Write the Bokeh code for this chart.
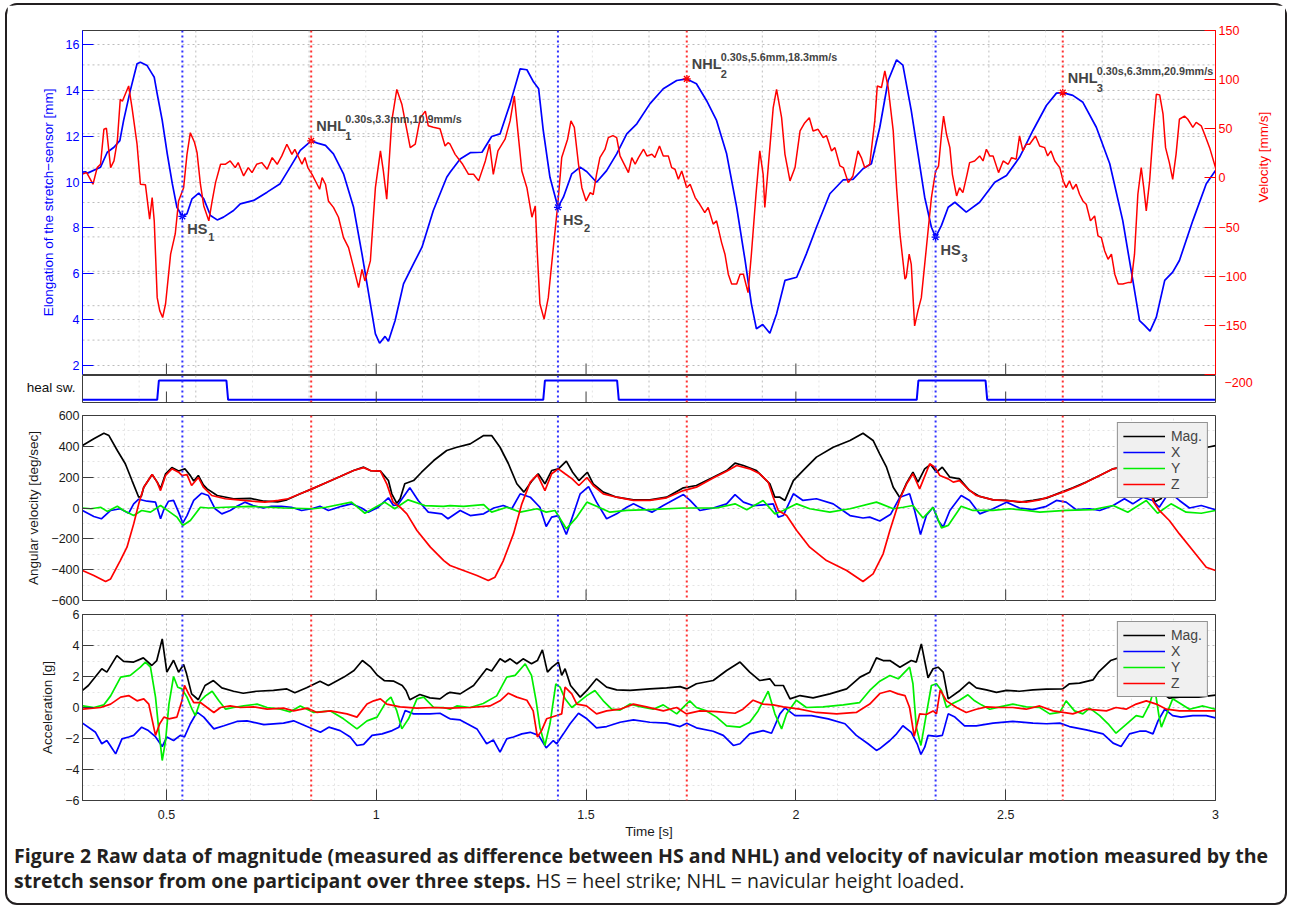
import math
from bokeh.plotting import figure
from bokeh.models import (Range1d, LinearAxis, FixedTicker, Span, Label, Legend, LegendItem,
                          Grid, CustomJSTickFormatter, Div)
from bokeh.layouts import column
from bokeh.embed import file_html
from bokeh.resources import INLINE

# ---------------- data ----------------
x_ticks = [0.5, 1.0, 1.5, 2.0, 2.5, 3.0]
elong_ticks = [2, 4, 6, 8, 10, 12, 14, 16]
vel_ticks = [-200, -150, -100, -50, 0, 50, 100, 150]
angv_ticks = [-600, -400, -200, 0, 200, 400, 600]
acc_ticks = [-6, -4, -2, 0, 2, 4, 6]

hs_t = [0.538, 1.433, 2.333]
hs_mm = [8.50, 8.90, 7.60]
nhl_t = [0.845, 1.740, 2.636]
nhl_mm = [11.80, 14.50, 13.90]
nhl_info = ["0.30s,3.3mm,10.9mm/s", "0.30s,5.6mm,18.3mm/s", "0.30s,6.3mm,20.9mm/s"]
step_idx = ["1", "2", "3"]

heel_on = [0.478, 1.398, 2.288]
heel_off = [0.643, 1.574, 2.452]
heel_label = "heal sw."

elong = [(0.300,10.43),(0.307,10.45),(0.312,10.39),(0.343,10.65),(0.359,11.30),(0.375,11.52),(0.389,11.81),
 (0.398,12.69),(0.414,14.00),(0.430,15.16),(0.438,15.23),(0.454,15.08),(0.466,14.72),(0.471,14.57),(0.478,13.85),
 (0.490,12.69),(0.502,11.23),(0.514,9.93),(0.525,8.90),(0.538,8.50),(0.549,8.62),(0.561,9.27),(0.577,9.52),
 (0.589,9.27),(0.605,8.54),(0.621,8.35),(0.636,8.47),(0.660,8.76),(0.676,9.05),(0.708,9.20),(0.740,9.56),
 (0.771,9.93),(0.795,10.65),(0.819,11.38),(0.845,11.80),(0.860,11.70),(0.879,11.60),(0.898,11.23),(0.922,10.36),
 (0.946,8.90),(0.966,6.87),(0.986,4.69),(0.998,3.38),(1.008,2.97),(1.021,3.27),(1.029,3.06),(1.045,3.96),
 (1.065,5.56),(1.089,6.44),(1.109,7.16),(1.136,8.76),(1.168,10.21),(1.176,10.43),(1.200,11.01),(1.224,11.28),
 (1.252,11.30),(1.275,11.99),(1.295,12.10),(1.319,13.41),(1.343,14.94),(1.359,14.90),(1.375,14.36),(1.387,14.07),
 (1.398,12.25),(1.414,10.21),(1.433,8.90),(1.446,9.34),(1.466,10.36),(1.486,10.65),(1.502,10.45),(1.525,9.99),
 (1.549,10.50),(1.573,11.23),(1.597,12.10),(1.621,12.54),(1.652,13.41),(1.684,14.07),(1.716,14.43),(1.740,14.50),
 (1.763,14.29),(1.787,13.56),(1.811,12.69),(1.835,11.23),(1.859,8.90),(1.879,6.58),(1.894,4.69),(1.906,3.60),
 (1.921,3.79),(1.938,3.41),(1.954,4.25),(1.974,5.71),(2.002,5.85),(2.025,6.87),(2.049,8.03),(2.081,9.49),
 (2.113,10.10),(2.136,10.12),(2.160,10.58),(2.180,10.80),(2.200,12.39),(2.220,14.43),(2.240,15.33),(2.255,15.10),
 (2.275,13.12),(2.291,11.23),(2.307,9.34),(2.323,8.03),(2.333,7.60),(2.347,8.11),(2.363,8.90),(2.379,9.12),
 (2.406,8.69),(2.438,9.12),(2.474,9.99),(2.502,10.29),(2.533,11.08),(2.565,12.25),(2.597,13.34),(2.621,13.88),
 (2.636,13.90),(2.660,13.78),(2.684,13.48),(2.716,12.39),(2.748,10.80),(2.779,8.32),(2.803,5.71),(2.819,3.96),
 (2.831,3.75),(2.844,3.50),(2.859,4.11),(2.879,5.71),(2.898,6.07),(2.914,6.58),(2.946,8.32),(2.978,9.93),(3.000,10.50)]

velocity = [(0.300,4),(0.310,5.4),(0.325,-6.4),(0.335,10.5),(0.343,13.9),(0.351,49.5),(0.357,50.5),(0.367,10.5),
 (0.375,17.3),(0.383,37.6),(0.390,80),(0.395,78),(0.410,93.6),(0.418,71.5),(0.430,34.3),(0.438,-6.4),(0.450,-7),
 (0.460,-42),(0.466,-20),(0.471,-44),(0.478,-121.8),(0.484,-135),(0.491,-142),(0.498,-128),(0.510,-77.6),(0.521,-57),
 (0.529,-23.4),(0.541,-9.9),(0.549,24),(0.557,46),(0.567,36),(0.573,25.7),(0.581,-6.4),(0.589,-28.5),(0.601,-43.7),
 (0.609,-23.4),(0.617,-4.8),(0.629,13.9),(0.640,13.9),(0.652,17.3),(0.664,10.5),(0.671,15.6),(0.684,2),(0.695,10.5),
 (0.704,5.4),(0.715,13.9),(0.727,15.6),(0.740,8.8),(0.752,20.7),(0.764,13.9),(0.775,22.4),(0.787,34.3),(0.799,24),
 (0.806,29),(0.823,13.9),(0.830,20.7),(0.837,10.5),(0.847,3.7),(0.859,-6.4),(0.865,-11.5),(0.871,0.3),(0.879,-6.4),
 (0.886,-23.4),(0.898,-30),(0.910,-40),(0.922,-60.7),(0.934,-70.9),(0.946,-91),(0.958,-111.6),(0.966,-93),
 (0.973,-104.8),(0.986,-84.4),(0.998,-9.9),(1.010,27.5),(1.017,7),(1.025,-21.7),(1.037,58),(1.049,90),(1.061,75),
 (1.081,30.8),(1.093,34.3),(1.105,61.3),(1.117,68),(1.124,53),(1.136,51.5),(1.152,50),(1.164,32.5),(1.171,35.9),
 (1.176,34.3),(1.188,24),(1.206,13.9),(1.220,3.7),(1.232,3.7),(1.244,-3),(1.260,17.3),(1.270,34.3),(1.279,3.7),
 (1.290,27.5),(1.307,39.4),(1.319,58),(1.329,83.4),(1.335,58),(1.347,7),(1.359,-9.9),(1.371,-40),(1.379,-28.5),
 (1.384,-77.6),(1.390,-128),(1.400,-143.7),(1.410,-121.8),(1.422,-70.9),(1.432,-30),(1.442,20.7),(1.456,39.4),
 (1.464,58),(1.472,51.5),(1.482,13.9),(1.490,-9.9),(1.500,-23.4),(1.510,-15),(1.517,-17),(1.525,3.7),(1.533,20.7),
 (1.545,29),(1.553,41),(1.564,43),(1.573,41),(1.581,22.4),(1.589,15.6),(1.601,5.4),(1.609,20.7),(1.617,13.9),
 (1.625,20.7),(1.637,29.2),(1.645,22.4),(1.657,24),(1.664,20.7),(1.675,32.5),(1.684,22.4),(1.696,22.4),(1.704,10.5),
 (1.712,8.8),(1.720,-1.4),(1.728,7),(1.740,-9.9),(1.748,-6.4),(1.760,-20),(1.771,-26.8),(1.783,-35.3),(1.791,-30),
 (1.803,-47),(1.811,-43.7),(1.823,-65.8),(1.831,-77.6),(1.839,-98),(1.847,-108),(1.859,-108),(1.867,-98),(1.875,-98),
 (1.886,-116.7),(1.894,-77.6),(1.905,-16.6),(1.914,27.5),(1.922,3.7),(1.926,-30),(1.934,10.5),(1.946,71.5),(1.954,90),
 (1.966,61.3),(1.974,24),(1.986,-3),(1.998,10.5),(2.010,47.8),(2.021,56),(2.032,61.3),(2.041,47.8),(2.053,49.5),
 (2.065,41),(2.073,43),(2.085,27.5),(2.093,30.8),(2.105,12.2),(2.113,10.5),(2.125,-4.8),(2.136,2),(2.148,27.5),
 (2.156,20.7),(2.164,10.5),(2.176,13.9),(2.188,58),(2.194,93.6),(2.204,92),(2.212,108.8),(2.220,92),(2.232,47.8),
 (2.240,-9.9),(2.248,-57),(2.260,-103),(2.263,-101),(2.270,-77.6),(2.275,-88),(2.283,-150.6),(2.291,-135),
 (2.299,-121.8),(2.311,-71),(2.323,-20),(2.333,7),(2.340,12),(2.347,44.4),(2.352,63),(2.359,44.4),(2.367,30.8),
 (2.373,3.7),(2.383,-18.3),(2.390,-10),(2.398,-15),(2.408,3.7),(2.414,15.6),(2.426,17.3),(2.438,22.4),(2.446,17.3),
 (2.454,29.2),(2.462,22.4),(2.470,22.4),(2.483,5.4),(2.494,17.3),(2.506,13.9),(2.514,20.7),(2.525,19),(2.533,42.7),
 (2.541,27.5),(2.549,34.3),(2.557,34.3),(2.571,42.7),(2.581,32.5),(2.593,30.8),(2.600,22.4),(2.608,27.5),(2.617,17.3),
 (2.629,10.5),(2.637,-3),(2.644,-9.9),(2.652,-3),(2.660,-11.5),(2.668,-6.4),(2.676,-16.6),(2.684,-23.4),(2.692,-26.8),
 (2.702,-43.7),(2.712,-38.7),(2.720,-59),(2.728,-60.7),(2.736,-74.3),(2.744,-82.7),(2.752,-77.6),(2.760,-98),
 (2.768,-108),(2.779,-108),(2.791,-106.5),(2.799,-106.5),(2.807,-77.6),(2.815,-16.6),(2.823,10.5),(2.829,-9.9),
 (2.835,-33.6),(2.843,-3),(2.851,44.4),(2.859,85.1),(2.867,84.5),(2.875,64.8),(2.881,30.8),(2.890,15.6),(2.898,-1.4),
 (2.906,24),(2.914,59.7),(2.926,63),(2.934,59.7),(2.946,51.5),(2.954,56.5),(2.966,53),(2.974,44.4),(2.986,30.8),(3.000,10.5)]

gyro_mag = [(0.300,405),(0.327,449),(0.351,485),(0.363,470),(0.383,373),(0.402,287),(0.418,178),(0.434,70),(0.440,75),
 (0.446,135),(0.466,217),(0.478,168),(0.486,125),(0.498,222),(0.513,262),(0.529,240),(0.544,254),(0.557,210),(0.565,175),
 (0.576,211),(0.588,150),(0.597,124),(0.621,81),(0.660,60),(0.700,62),(0.733,44),(0.765,40),(0.787,53),(0.819,92),
 (0.847,124),(0.883,167),(0.914,204),(0.946,243),(0.970,265),(0.986,243),(1.010,239),(1.029,178),(1.037,92),(1.049,30),
 (1.057,60),(1.068,157),(1.089,178),(1.108,232),(1.137,308),(1.168,373),(1.192,394),(1.224,416),(1.256,470),(1.275,470),
 (1.295,394),(1.315,287),(1.335,157),(1.352,103),(1.370,172),(1.386,222),(1.402,157),(1.418,243),(1.434,254),(1.453,304),
 (1.468,232),(1.483,178),(1.503,232),(1.517,157),(1.541,103),(1.573,70),(1.613,53),(1.652,53),(1.692,70),(1.732,131),
 (1.763,146),(1.803,200),(1.835,243),(1.855,291),(1.875,276),(1.906,243),(1.926,189),(1.938,157),(1.950,70),(1.962,70),
 (1.974,49),(1.994,178),(2.017,243),(2.049,330),(2.089,394),(2.129,438),(2.160,485),(2.184,438),(2.200,350),(2.216,265),
 (2.232,135),(2.248,66),(2.263,157),(2.279,232),(2.291,168),(2.307,254),(2.321,282),(2.335,232),(2.349,265),(2.367,200),
 (2.390,189),(2.414,113),(2.438,75),(2.470,53),(2.502,49),(2.533,38),(2.565,49),(2.597,64),(2.633,103),(2.660,131),
 (2.692,168),(2.724,211),(2.756,254),(2.780,268),(2.805,272),(2.825,240),(2.842,150),(2.855,40),(2.870,60),(2.900,200),
 (2.930,300),(2.960,370),(2.981,394),(3.000,405)]

gyro_x = [(0.300,-16),(0.327,-55),(0.345,-70),(0.367,-16),(0.390,-5),(0.410,-34),(0.422,27),(0.434,57),(0.454,44),
 (0.474,38),(0.486,-70),(0.493,-16),(0.505,44),(0.517,49),(0.529,-27),(0.539,-98),(0.549,-49),(0.565,49),(0.584,96),
 (0.600,81),(0.616,-5),(0.632,-38),(0.652,-16),(0.668,11),(0.687,38),(0.706,16),(0.731,0),(0.750,11),(0.774,11),
 (0.798,5),(0.822,-16),(0.846,-5),(0.866,11),(0.886,-16),(0.917,11),(0.941,27),(0.965,0),(0.981,-27),(1.005,5),
 (1.029,66),(1.041,16),(1.052,22),(1.080,131),(1.100,49),(1.124,-27),(1.156,-38),(1.171,-70),(1.200,-16),(1.224,-49),
 (1.256,-38),(1.280,0),(1.303,16),(1.323,-5),(1.343,92),(1.367,70),(1.390,5),(1.405,-120),(1.418,-59),(1.434,-49),
 (1.453,-172),(1.470,-38),(1.486,92),(1.506,139),(1.525,38),(1.549,-70),(1.573,-38),(1.597,5),(1.613,27),(1.637,-5),
 (1.657,-27),(1.684,16),(1.732,87),(1.748,49),(1.771,-16),(1.803,0),(1.835,27),(1.855,87),(1.875,38),(1.898,16),
 (1.930,22),(1.946,27),(1.958,-59),(1.970,-49),(1.994,92),(2.017,49),(2.049,60),(2.089,27),(2.129,-49),(2.160,-65),
 (2.176,-59),(2.200,-84),(2.226,-40),(2.248,70),(2.271,92),(2.283,-16),(2.297,-172),(2.311,-49),(2.327,5),(2.339,-81),
 (2.351,-124),(2.367,-16),(2.394,81),(2.414,49),(2.438,-38),(2.470,-5),(2.502,38),(2.533,0),(2.565,-11),(2.597,11),
 (2.621,49),(2.644,38),(2.668,-11),(2.700,-5),(2.724,-16),(2.756,16),(2.783,60),(2.803,27),(2.827,70),(2.850,49),
 (2.866,5),(2.890,103),(2.914,49),(2.938,0),(2.966,16),(3.000,-11)]

gyro_y = [(0.300,0),(0.320,-5),(0.343,5),(0.359,-22),(0.383,11),(0.398,-16),(0.422,-49),(0.441,-16),(0.462,-27),
 (0.486,16),(0.505,-20),(0.525,-59),(0.539,-113),(0.557,-81),(0.581,5),(0.600,0),(0.640,5),(0.700,11),(0.780,0),
 (0.850,-5),(0.880,5),(0.941,38),(0.973,-34),(0.998,5),(1.020,38),(1.044,-5),(1.076,53),(1.116,16),(1.160,11),
 (1.176,16),(1.208,11),(1.256,22),(1.275,-27),(1.311,5),(1.343,-27),(1.383,-5),(1.405,-27),(1.426,-16),(1.453,-135),
 (1.478,-59),(1.502,38),(1.525,11),(1.557,-27),(1.597,-16),(1.652,-11),(1.732,0),(1.811,0),(1.855,27),(1.883,-11),
 (1.922,49),(1.950,-38),(1.970,-16),(2.002,27),(2.033,-5),(2.081,-27),(2.129,-5),(2.192,38),(2.200,30),(2.232,-5),
 (2.256,5),(2.279,16),(2.303,-65),(2.327,5),(2.347,-129),(2.363,-113),(2.394,11),(2.422,-16),(2.470,-16),(2.510,-5),
 (2.549,-16),(2.581,-27),(2.644,-16),(2.708,-11),(2.756,16),(2.791,-27),(2.835,49),(2.862,-34),(2.894,27),(2.930,-27),
 (2.966,-34),(3.000,-16)]

gyro_z = [(0.300,-405),(0.327,-438),(0.355,-477),(0.367,-460),(0.390,-341),(0.406,-254),(0.422,-103),(0.434,27),
 (0.446,135),(0.466,217),(0.478,168),(0.486,113),(0.498,211),(0.513,254),(0.529,232),(0.537,211),(0.549,217),
 (0.560,146),(0.576,198),(0.588,135),(0.608,81),(0.640,60),(0.671,53),(0.703,44),(0.735,38),(0.767,49),(0.790,60),
 (0.819,92),(0.847,124),(0.883,167),(0.914,204),(0.946,243),(0.970,262),(0.986,243),(1.010,239),(1.025,157),
 (1.040,38),(1.057,5),(1.073,-38),(1.097,-146),(1.129,-254),(1.161,-341),(1.176,-373),(1.208,-405),(1.240,-438),
 (1.267,-470),(1.283,-449),(1.303,-341),(1.327,-168),(1.347,27),(1.367,168),(1.384,217),(1.402,113),(1.418,222),
 (1.434,254),(1.450,222),(1.467,189),(1.483,146),(1.502,198),(1.517,146),(1.541,92),(1.573,70),(1.613,49),(1.652,49),
 (1.692,66),(1.732,113),(1.763,135),(1.803,194),(1.835,239),(1.859,276),(1.890,254),(1.914,222),(1.934,168),
 (1.946,70),(1.958,-16),(1.978,-49),(2.002,-146),(2.033,-254),(2.073,-341),(2.121,-405),(2.160,-477),(2.184,-427),
 (2.208,-297),(2.224,-146),(2.248,60),(2.264,157),(2.279,222),(2.295,124),(2.319,287),(2.331,265),(2.343,211),
 (2.363,189),(2.375,168),(2.390,178),(2.410,124),(2.430,81),(2.470,53),(2.518,44),(2.549,38),(2.581,53),(2.613,81),
 (2.637,103),(2.676,146),(2.716,200),(2.756,254),(2.780,266),(2.805,270),(2.825,245),(2.842,150),(2.852,40),
 (2.866,-16),(2.890,-81),(2.914,-168),(2.946,-276),(2.978,-384),(3.000,-405)]

acc_mag = [(0.300,1.10),(0.314,1.42),(0.346,2.50),(0.358,2.28),(0.382,3.35),(0.398,2.98),(0.422,2.93),(0.445,3.20),
 (0.465,2.71),(0.477,3.03),(0.490,4.43),(0.501,2.28),(0.517,3.05),(0.529,2.28),(0.541,2.77),(0.548,2.17),(0.560,0.88),
 (0.576,0.50),(0.592,1.42),(0.612,1.74),(0.632,1.27),(0.660,1.05),(0.683,0.92),(0.715,1.05),(0.755,1.10),(0.787,1.20),
 (0.806,0.95),(0.834,1.27),(0.866,1.70),(0.886,1.42),(0.923,1.96),(0.947,2.39),(0.967,3.03),(0.987,2.60),(1.003,2.07),
 (1.019,1.74),(1.042,1.70),(1.062,1.42),(1.071,1.10),(1.080,0.50),(1.104,0.84),(1.128,0.62),(1.152,0.56),(1.168,0.88),
 (1.176,0.98),(1.200,0.88),(1.232,1.42),(1.263,2.50),(1.275,2.35),(1.295,3.14),(1.307,2.93),(1.319,3.14),(1.335,2.82),
 (1.350,3.14),(1.370,2.82),(1.384,3.03),(1.396,3.72),(1.408,2.28),(1.419,2.60),(1.434,2.93),(1.442,2.07),(1.450,2.50),
 (1.463,1.42),(1.486,0.67),(1.502,1.10),(1.525,1.85),(1.549,1.31),(1.573,1.14),(1.605,1.10),(1.652,1.20),(1.692,1.27),
 (1.724,1.35),(1.740,1.20),(1.763,1.53),(1.803,1.74),(1.835,2.39),(1.867,2.93),(1.890,2.28),(1.914,1.74),(1.938,1.85),
 (1.950,1.42),(1.970,1.42),(1.986,0.56),(2.010,0.77),(2.041,0.62),(2.081,0.88),(2.121,1.20),(2.153,1.96),(2.176,2.28),
 (2.192,3.20),(2.208,3.03),(2.224,3.03),(2.248,2.60),(2.275,3.03),(2.287,2.93),(2.299,4.10),(2.315,1.92),(2.327,2.50),
 (2.339,2.60),(2.351,2.28),(2.363,0.56),(2.391,1.10),(2.413,1.63),(2.430,1.27),(2.454,1.14),(2.478,0.98),(2.502,1.10),
 (2.533,1.05),(2.565,1.14),(2.597,1.18),(2.636,1.20),(2.652,1.53),(2.676,1.57),(2.708,1.78),(2.721,2.28),(2.750,3.03),
 (2.780,3.30),(2.815,3.10),(2.845,2.00),(2.870,1.00),(2.890,0.60),(2.914,0.67),(2.960,0.67),(3.000,0.80)]

acc_x = [(0.300,-1.01),(0.331,-1.60),(0.346,-2.34),(0.358,-2.13),(0.366,-2.45),(0.379,-2.99),(0.394,-2.02),
 (0.410,-1.90),(0.422,-1.80),(0.441,-1.27),(0.457,-1.49),(0.473,-1.86),(0.490,-2.52),(0.501,-1.90),(0.517,-2.13),
 (0.533,-1.80),(0.543,-1.90),(0.557,-1.05),(0.573,-0.30),(0.589,-0.62),(0.613,-1.38),(0.637,-1.18),(0.668,-0.90),
 (0.692,-0.86),(0.732,-1.10),(0.779,-1.01),(0.803,-0.86),(0.835,-1.23),(0.867,-1.60),(0.887,-1.27),(0.914,-1.49),
 (0.938,-1.90),(0.954,-2.45),(0.970,-2.38),(0.990,-1.80),(1.014,-1.70),(1.038,-1.49),(1.054,-1.27),(1.069,-0.19),
 (1.089,-0.41),(1.128,-0.41),(1.152,-0.37),(1.172,-0.67),(1.176,-0.73),(1.200,-0.80),(1.240,-1.38),(1.263,-2.34),
 (1.279,-2.09),(1.295,-2.88),(1.311,-2.02),(1.327,-1.90),(1.347,-1.70),(1.367,-1.60),(1.387,-1.80),(1.405,-2.60),
 (1.422,-2.13),(1.430,-2.34),(1.446,-1.70),(1.462,-1.05),(1.482,-0.37),(1.502,-0.73),(1.525,-1.31),(1.549,-1.23),
 (1.581,-0.95),(1.613,-0.80),(1.652,-0.95),(1.692,-1.01),(1.724,-1.23),(1.740,-1.01),(1.763,-1.31),(1.803,-1.53),
 (1.827,-1.80),(1.851,-2.45),(1.867,-2.34),(1.890,-1.70),(1.922,-1.49),(1.942,-1.66),(1.962,-0.41),(1.974,-0.02),
 (1.998,-0.52),(2.037,-0.52),(2.077,-0.73),(2.117,-1.05),(2.144,-1.80),(2.172,-2.34),(2.192,-2.77),(2.200,-2.65),
 (2.224,-2.13),(2.240,-1.70),(2.255,-1.18),(2.275,-1.60),(2.289,-2.34),(2.298,-3.03),(2.307,-2.56),(2.315,-1.80),
 (2.335,-1.86),(2.349,-1.80),(2.363,-0.41),(2.379,-0.62),(2.402,-1.18),(2.430,-1.18),(2.470,-1.01),(2.517,-0.90),
 (2.565,-1.01),(2.597,-1.05),(2.629,-1.01),(2.652,-1.23),(2.692,-1.44),(2.732,-1.70),(2.756,-2.30),(2.775,-2.52),
 (2.795,-1.70),(2.819,-1.53),(2.835,-1.53),(2.851,-1.70),(2.863,-0.86),(2.879,-0.11),(2.898,-0.52),(2.918,-0.62),
 (2.946,-0.52),(2.978,-0.52),(3.000,-0.67)]

acc_y = [(0.301,0.10),(0.327,0.00),(0.351,0.17),(0.367,0.75),(0.391,1.96),(0.414,2.07),(0.438,2.60),(0.450,2.93),
 (0.462,2.60),(0.474,0.67),(0.482,-1.49),(0.490,-3.42),(0.498,-2.13),(0.506,0.22),(0.517,2.00),(0.527,1.31),
 (0.537,1.20),(0.549,0.67),(0.561,-0.11),(0.569,-0.52),(0.581,0.43),(0.593,0.75),(0.609,1.05),(0.625,0.43),
 (0.641,-0.11),(0.660,0.00),(0.684,0.10),(0.716,0.22),(0.740,0.00),(0.772,-0.11),(0.795,-0.28),(0.819,0.10),
 (0.851,-0.32),(0.891,-0.22),(0.922,-0.73),(0.954,-1.38),(0.978,-0.86),(1.002,-0.62),(1.025,0.43),(1.035,0.67),
 (1.049,-0.22),(1.061,-1.38),(1.077,-0.73),(1.097,0.56),(1.113,0.67),(1.137,0.00),(1.160,0.00),(1.176,-0.11),
 (1.192,0.10),(1.224,0.00),(1.255,0.26),(1.287,0.75),(1.311,1.96),(1.331,2.07),(1.355,2.82),(1.370,2.07),(1.381,0.43),
 (1.390,-1.27),(1.402,-2.45),(1.414,-1.05),(1.428,1.53),(1.438,1.31),(1.450,0.56),(1.466,0.00),(1.486,0.43),
 (1.501,0.75),(1.521,1.10),(1.541,0.43),(1.561,-0.11),(1.581,-0.17),(1.605,0.22),(1.632,0.04),(1.660,-0.11),
 (1.684,0.17),(1.716,-0.41),(1.747,0.43),(1.763,0.00),(1.787,-0.22),(1.811,-0.62),(1.835,-1.18),(1.866,-1.27),
 (1.890,-0.95),(1.910,-0.22),(1.934,1.05),(1.950,-0.41),(1.966,-1.38),(1.978,-0.41),(2.001,0.47),(2.025,0.00),
 (2.065,0.04),(2.113,0.17),(2.152,0.32),(2.176,1.10),(2.200,1.70),(2.224,2.07),(2.244,1.85),(2.271,2.60),(2.279,1.53),
 (2.287,-1.27),(2.298,-2.45),(2.311,-0.41),(2.323,1.42),(2.335,1.53),(2.347,1.10),(2.359,0.00),(2.371,0.22),
 (2.390,0.47),(2.410,0.82),(2.426,0.43),(2.442,0.17),(2.462,-0.11),(2.486,0.04),(2.517,0.22),(2.549,0.04),(2.581,0.00),
 (2.605,-0.41),(2.629,-0.32),(2.644,0.43),(2.664,-0.22),(2.684,-0.41),(2.700,-0.04),(2.724,-0.52),(2.744,-1.05),
 (2.763,-1.66),(2.783,-1.18),(2.811,-0.52),(2.827,-0.62),(2.843,0.22),(2.855,1.30),(2.865,-0.50),(2.871,-1.27),
 (2.898,0.56),(2.938,-0.11),(2.970,0.10),(3.000,-0.11)]

acc_z = [(0.301,-0.11),(0.343,0.00),(0.367,0.22),(0.391,0.67),(0.410,0.77),(0.430,0.43),(0.446,0.56),(0.458,0.22),
 (0.474,-1.80),(0.484,-1.05),(0.494,-0.62),(0.506,-0.73),(0.525,-0.62),(0.537,0.43),(0.543,1.42),(0.553,0.88),
 (0.565,0.32),(0.581,0.32),(0.597,0.00),(0.613,-0.32),(0.629,0.00),(0.652,0.10),(0.676,0.00),(0.708,0.04),
 (0.740,-0.11),(0.779,-0.04),(0.803,-0.22),(0.835,-0.04),(0.859,-0.32),(0.891,-0.22),(0.930,-0.41),(0.954,-0.62),
 (0.978,0.22),(0.994,0.43),(1.010,0.56),(1.025,0.22),(1.057,0.04),(1.097,-0.04),(1.137,0.00),(1.172,-0.04),
 (1.224,0.00),(1.271,0.10),(1.295,0.43),(1.315,0.92),(1.335,0.67),(1.359,0.47),(1.374,-0.22),(1.384,-1.90),
 (1.394,-1.49),(1.406,-0.73),(1.430,-0.52),(1.442,-0.41),(1.450,1.31),(1.466,0.88),(1.478,0.22),(1.501,0.10),
 (1.525,-0.41),(1.549,-0.22),(1.581,-0.11),(1.613,0.22),(1.644,0.04),(1.684,-0.22),(1.716,0.00),(1.739,-0.41),
 (1.771,-0.22),(1.811,-0.26),(1.855,-0.37),(1.874,-0.11),(1.898,0.47),(1.922,0.22),(1.946,0.17),(1.970,0.04),
 (2.009,-0.11),(2.049,-0.32),(2.097,-0.41),(2.144,-0.32),(2.176,0.22),(2.200,0.90),(2.224,1.08),(2.243,0.88),
 (2.260,0.77),(2.271,0.00),(2.282,-1.86),(2.295,-0.41),(2.311,-0.45),(2.327,-0.22),(2.335,-0.41),(2.344,1.14),
 (2.359,0.43),(2.383,0.00),(2.406,-0.32),(2.430,-0.11),(2.454,0.04),(2.486,0.00),(2.517,0.00),(2.549,-0.11),
 (2.581,0.10),(2.613,-0.22),(2.637,-0.32),(2.660,-0.41),(2.692,-0.11),(2.740,-0.22),(2.763,0.00),(2.787,-0.11),
 (2.811,0.22),(2.835,0.43),(2.859,0.22),(2.883,-0.11),(2.914,-0.22),(2.954,-0.22),(3.000,-0.22)]

caption_bold1 = "Figure 2 Raw data of magnitude (measured as difference between HS and NHL) and velocity of navicular motion measured by the"
caption_bold2 = "stretch sensor from one participant over three steps."
caption_norm2 = "HS = heel strike; NHL = navicular height loaded."

# ---------------- style ----------------
FONT = "Liberation Sans"
AX = "#3c3c3c"
GRIDC = "#bcbcbc"
MINORC = "#e4e4e4"
BLUE, RED, GREEN, BLACK = "#0000ff", "#ff0000", "#00ee00", "#000000"
W, L = 1278, 75
R = W - L - 1133
LW = 1.7


def xs(d):
    return [a for a, b in d]


def ys(d):
    return [b for a, b in d]


MINUS_JS = "return tick < 0 ? '\\u2212' + Math.abs(tick) : '' + tick;"


def style_axis(ax, line=AX, text="#1a1a1a"):
    ax.axis_line_color = line
    ax.major_tick_line_color = line
    ax.major_tick_in = 11
    ax.major_tick_out = 0
    ax.minor_tick_line_color = None
    ax.major_label_text_font = FONT
    ax.major_label_text_font_size = "12.5px"
    ax.major_label_text_color = text
    ax.axis_label_text_font = FONT
    ax.axis_label_text_font_size = "13.5px"
    ax.axis_label_text_font_style = "normal"
    ax.axis_label_text_color = text
    ax.major_label_standoff = 3
    ax.axis_label_standoff = 7
    ax.formatter = CustomJSTickFormatter(code=MINUS_JS)


def add_events(p):
    for t in hs_t:
        p.add_layout(Span(location=t, dimension="height", line_color="#3030ff", line_dash="2 3",
                          line_width=2))
    for t in nhl_t:
        p.add_layout(Span(location=t, dimension="height", line_color="#ff3030", line_dash="2 3",
                          line_width=2))


sec_x = [0.3 + 0.27 * k for k in range(1, 10)]
sec_xm = [0.3 + 0.135 * (2 * k + 1) for k in range(10)]
sec_v = [150 - 35 * k for k in range(1, 10)]


def add_sec_xgrid(p):
    for t in sec_x:
        p.add_layout(Span(location=t, dimension="height", line_color=GRIDC, line_dash="2 3",
                          line_width=1, level="underlay"))
    for t in sec_xm:
        p.add_layout(Span(location=t, dimension="height", line_color=MINORC, line_dash="2 3",
                          line_width=1, level="underlay"))


# ---------------- top panel (stretch sensor) ----------------
p1 = figure(width=W, height=370, x_range=Range1d(0.3, 3.0), y_range=Range1d(1.6075, 16.6106),
            x_axis_type=None, min_border_left=L, min_border_right=R, min_border_top=25,
            min_border_bottom=1, output_backend="svg", toolbar_location=None)
p1.extra_y_ranges = {"vel": Range1d(-200, 150)}
p1.outline_line_color = AX

ay = p1.yaxis[0]
ay.ticker = FixedTicker(ticks=elong_ticks)
ay.axis_label = "Elongation of the stretch\u2212sensor [mm]"
style_axis(ay, line=BLUE, text=BLUE)
p1.ygrid[0].ticker = FixedTicker(ticks=elong_ticks)
p1.ygrid[0].grid_line_color = GRIDC
p1.ygrid[0].grid_line_dash = "2 3"

ar = LinearAxis(y_range_name="vel", ticker=FixedTicker(ticks=vel_ticks), axis_label="Velocity [mm/s]")
style_axis(ar, line=RED, text=RED)
# the lowest label sits beside the heel strip; it is drawn by the strip's own axis below
ar.formatter = CustomJSTickFormatter(args=dict(low=vel_ticks[0]),
                                     code="if (tick == low) return ''; " + MINUS_JS)
ar.axis_label_standoff = 14
try:
    ar.axis_label_orientation = math.pi / 2
except Exception:
    pass
p1.add_layout(ar, "right")

add_sec_xgrid(p1)
for v in sec_v:
    p1.add_layout(Span(location=v, dimension="width", y_range_name="vel", line_color=GRIDC,
                       line_dash="2 3", line_width=1, level="underlay"))

p1.segment(x0=x_ticks, y0=[-200] * len(x_ticks), x1=x_ticks, y1=[-188.8] * len(x_ticks),
           y_range_name="vel", line_color=AX, line_width=1)

p1.line(xs(elong), ys(elong), line_color=BLUE, line_width=LW)
p1.line(xs(velocity), ys(velocity), line_color=RED, line_width=1.5, y_range_name="vel")

add_events(p1)
p1.scatter(hs_t, hs_mm, marker="asterisk", size=8, line_color=BLUE, line_width=1.3)
p1.scatter(nhl_t, nhl_mm, marker="asterisk", size=8, line_color=RED, line_width=1.3)

for t, v, idx in zip(hs_t, hs_mm, step_idx):
    p1.add_layout(Label(x=t, y=v, x_offset=5, y_offset=-13, text="HS", text_baseline="middle",
                        text_font=FONT, text_font_style="bold", text_font_size="14.5px"))
    p1.add_layout(Label(x=t, y=v, x_offset=26, y_offset=-21, text=idx, text_baseline="middle",
                        text_font=FONT, text_font_style="bold", text_font_size="11px"))
for t, v, idx, info in zip(nhl_t, nhl_mm, step_idx, nhl_info):
    p1.add_layout(Label(x=t, y=v, x_offset=5, y_offset=15, text="NHL", text_baseline="middle",
                        text_font=FONT, text_font_style="bold", text_font_size="14.5px"))
    p1.add_layout(Label(x=t, y=v, x_offset=34, y_offset=5, text=idx, text_baseline="middle",
                        text_font=FONT, text_font_style="bold", text_font_size="11px"))
    p1.add_layout(Label(x=t, y=v, x_offset=34, y_offset=22, text=info, text_baseline="middle",
                        text_font=FONT, text_font_style="bold", text_font_size="10.8px"))

# ---------------- heel switch strip ----------------
ph = figure(width=W, height=30, x_range=Range1d(0.3, 3.0), y_range=Range1d(-0.14, 1.259),
            x_axis_type=None, min_border_left=L, min_border_right=R, min_border_top=0,
            min_border_bottom=3, output_backend="svg", toolbar_location=None)
ph.outline_line_color = AX
ph.ygrid.visible = False
hy = ph.yaxis[0]
hy.ticker = FixedTicker(ticks=[0.62])
hy.formatter = CustomJSTickFormatter(args=dict(lab=heel_label), code="return lab;")
hy.axis_line_color = None
hy.major_tick_line_color = None
hy.minor_tick_line_color = None
hy.major_label_standoff = 1
hy.major_label_text_font = FONT
hy.major_label_text_font_size = "13.5px"
hy.major_label_text_color = "#111111"
# continuation of the velocity axis: its lowest tick label
hr = LinearAxis(ticker=FixedTicker(ticks=[0.9]),
                formatter=CustomJSTickFormatter(args=dict(low=vel_ticks[0]),
                                                code="return '\\u2212' + Math.abs(low);"))
hr.axis_line_color = None
hr.major_tick_line_color = None
hr.minor_tick_line_color = None
hr.major_label_standoff = 3
hr.major_label_text_font = FONT
hr.major_label_text_font_size = "12.5px"
hr.major_label_text_color = RED
ph.add_layout(hr, "right")
add_sec_xgrid(ph)
heel_x, heel_y = [0.3], [0]
for on, off in zip(heel_on, heel_off):
    heel_x += [on, on + 0.004, off, off + 0.004]
    heel_y += [0, 1, 1, 0]
heel_x.append(3.0)
heel_y.append(0)
ph.line(heel_x, heel_y, line_color=BLUE, line_width=2)
ph.segment(x0=x_ticks, y0=[-0.14] * len(x_ticks), x1=x_ticks, y1=[0.43] * len(x_ticks),
           line_color=AX, line_width=1)
add_events(ph)


# ---------------- helpers for the two sensor panels ----------------
def sensor_panel(height, yr, yticks, yminor, label, top, bottom, show_x):
    p = figure(width=W, height=height, x_range=Range1d(0.3, 3.0), y_range=Range1d(*yr),
               x_axis_type="linear" if show_x else None, min_border_left=L, min_border_right=R,
               min_border_top=top, min_border_bottom=bottom, output_backend="svg",
               toolbar_location=None)
    p.outline_line_color = AX
    a = p.yaxis[0]
    a.ticker = FixedTicker(ticks=yticks)
    a.axis_label = label
    style_axis(a)
    g = p.ygrid[0]
    g.ticker = FixedTicker(ticks=yticks, minor_ticks=yminor)
    g.grid_line_color = GRIDC
    g.grid_line_dash = "2 3"
    g.minor_grid_line_color = MINORC
    g.minor_grid_line_dash = "2 3"
    xt = FixedTicker(ticks=x_ticks, minor_ticks=[round(0.3 + 0.1 * i, 2) for i in range(28)])
    p.add_layout(Grid(dimension=0, ticker=xt, grid_line_color=GRIDC, grid_line_dash="2 3",
                      minor_grid_line_color=MINORC, minor_grid_line_dash="2 3"))
    if show_x:
        ax = p.xaxis[0]
        ax.ticker = FixedTicker(ticks=x_ticks)
        ax.axis_label = "Time [s]"
        style_axis(ax)
        ax.major_label_standoff = 9
        ax.axis_label_standoff = 2
        p.xgrid[0].visible = False
    else:
        lo = yr[0]
        tick_len = (yr[1] - yr[0]) * 11.0 / 185.0
        p.segment(x0=x_ticks, y0=[lo] * len(x_ticks), x1=x_ticks, y1=[lo + tick_len] * len(x_ticks),
                  line_color=AX, line_width=1)
    return p


def legend_for(p, rs):
    lg = Legend(items=[LegendItem(label=n, renderers=[r]) for n, r in zip(["Mag.", "X", "Y", "Z"], rs)],
                location="top_right", margin=7, padding=5, spacing=0, label_height=14,
                glyph_height=14, glyph_width=42, label_standoff=6, label_text_font=FONT,
                label_text_font_size="14px", border_line_color="#333333",
                background_fill_color="#f0f0f0", background_fill_alpha=1.0)
    p.add_layout(lg)


# ---------------- angular velocity ----------------
p2 = sensor_panel(202, (-600, 600), angv_ticks, [-500, -300, -100, 100, 300, 500],
                  "Angular velocity [deg/sec]", 10, 7, False)
r_m = p2.line(xs(gyro_mag), ys(gyro_mag), line_color=BLACK, line_width=LW)
r_x = p2.line(xs(gyro_x), ys(gyro_x), line_color=BLUE, line_width=LW)
r_y = p2.line(xs(gyro_y), ys(gyro_y), line_color=GREEN, line_width=LW)
r_z = p2.line(xs(gyro_z), ys(gyro_z), line_color=RED, line_width=LW)
add_events(p2)
legend_for(p2, [r_m, r_x, r_y, r_z])

# ---------------- acceleration ----------------
p3 = sensor_panel(236, (-6, 6), acc_ticks, [-5, -3, -1, 1, 3, 5], "Acceleration [g]", 7, 43, True)
q_m = p3.line(xs(acc_mag), ys(acc_mag), line_color=BLACK, line_width=LW)
q_x = p3.line(xs(acc_x), ys(acc_x), line_color=BLUE, line_width=LW)
q_y = p3.line(xs(acc_y), ys(acc_y), line_color=GREEN, line_width=LW)
q_z = p3.line(xs(acc_z), ys(acc_z), line_color=RED, line_width=LW)
add_events(p3)
legend_for(p3, [q_m, q_x, q_y, q_z])

# ---------------- caption ----------------
cap_html = ('<div style="font-family:\'Open Sans\',sans-serif;font-size:19.5px;line-height:25px;'
            'color:#231f20;white-space:nowrap;margin:0;padding:0 0 0 7px;">'
            '<b>' + caption_bold1 + '</b><br><b>' + caption_bold2 + '</b> ' + caption_norm2 + '</div>')
cap = Div(text=cap_html, width=W, height=60, margin=0)

layout = column(p1, ph, p2, p3, cap, spacing=0, margin=(3, 0, 0, 5),
                styles={"border": "2px solid #231f20", "border-radius": "12px"})

open("out.html", "w").write(file_html(layout, INLINE, "Figure 2"))
